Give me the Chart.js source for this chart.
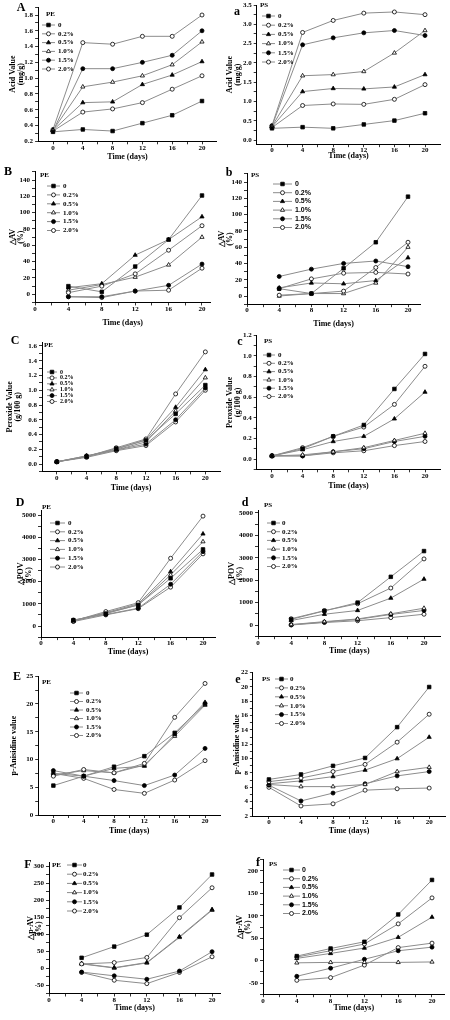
<!DOCTYPE html>
<html>
<head>
<meta charset="utf-8">
<script src="https://cdn.jsdelivr.net/npm/chart.js@4.4.1/dist/chart.umd.min.js"></script>
<style>
  body { margin: 0; background: #fff; width: 450px; height: 1020px; position: relative; overflow: hidden; }
  canvas { position: absolute; }
</style>
</head>
<body>
<script>
const levels = ['0', '0.2%', '0.5%', '1.0%', '1.5%', '2.0%'];
const days = [0, 4, 8, 12, 16, 20];
const deltaDays = [4, 8, 12, 16, 20];

// acid value (mg/g)
const avPE = [
  [0.32, 0.35, 0.33, 0.43, 0.53, 0.71],
  [0.33, 0.57, 0.61, 0.69, 0.86, 1.03],
  [0.34, 0.69, 0.70, 0.92, 1.04, 1.21],
  [0.34, 0.89, 0.95, 1.03, 1.17, 1.46],
  [0.33, 1.12, 1.12, 1.20, 1.29, 1.60],
  [0.35, 1.45, 1.43, 1.53, 1.53, 1.80]
];
const avPS = [
  [0.31, 0.34, 0.31, 0.41, 0.51, 0.70],
  [0.33, 0.90, 0.94, 0.93, 1.06, 1.44],
  [0.35, 1.26, 1.34, 1.33, 1.38, 1.70],
  [0.36, 1.67, 1.70, 1.78, 2.26, 2.84],
  [0.37, 2.47, 2.65, 2.78, 2.84, 2.71],
  [0.38, 2.79, 3.10, 3.29, 3.32, 3.25]
];
// delta AV (%)
const davPE = [
  [10, 3, 34, 67, 121],
  [2, 10, 25, 54, 84],
  [8, 13, 48, 67, 95],
  [5, 12, 21, 36, 70],
  [-3, -3, 4, 11, 37],
  [-3, -4, 4, 5, 32]
];
const davPS = [
  [9, 3, 34, 66, 122],
  [1, 3, 6, 35, 66],
  [10, 16, 15, 19, 47],
  [0, 3, 3, 16, 60],
  [24, 33, 40, 43, 36],
  [9, 21, 28, 29, 27]
];
// peroxide value (g/100 g)
const povPE = [
  [0.03, 0.10, 0.21, 0.32, 0.68, 1.07],
  [0.03, 0.10, 0.22, 0.34, 0.95, 1.52],
  [0.03, 0.11, 0.20, 0.33, 0.77, 1.28],
  [0.03, 0.10, 0.19, 0.30, 0.72, 1.17],
  [0.03, 0.11, 0.19, 0.27, 0.60, 1.03],
  [0.03, 0.09, 0.18, 0.25, 0.57, 1.00]
];
const povPS = [
  [0.03, 0.10, 0.22, 0.33, 0.68, 1.02],
  [0.03, 0.11, 0.22, 0.31, 0.53, 0.90],
  [0.03, 0.09, 0.17, 0.22, 0.39, 0.65],
  [0.03, 0.04, 0.07, 0.11, 0.18, 0.25],
  [0.03, 0.03, 0.07, 0.10, 0.17, 0.22],
  [0.03, 0.03, 0.06, 0.08, 0.13, 0.17]
];
// delta POV (%)
const dpovPE = [
  [260, 560, 950, 2150, 3450],
  [230, 650, 1050, 3050, 4950],
  [240, 600, 1000, 2450, 4150],
  [220, 580, 950, 2300, 3800],
  [270, 520, 800, 1880, 3350],
  [200, 500, 780, 1750, 3250]
];
const dpovPS = [
  [250, 630, 1000, 2150, 3300],
  [280, 640, 950, 1650, 2950],
  [200, 480, 650, 1200, 2050],
  [20, 150, 270, 500, 750],
  [10, 130, 250, 470, 650],
  [0, 110, 190, 330, 480]
];
// p-anisidine value
const panPE = [
  [5.3, 7.0, 8.7, 10.6, 14.8, 20.0],
  [7.0, 8.2, 7.6, 9.3, 17.6, 23.7],
  [7.5, 7.0, 8.4, 8.8, 14.5, 20.3],
  [7.2, 8.0, 7.6, 9.0, 14.2, 19.8],
  [8.0, 7.0, 6.2, 5.3, 7.2, 12.0],
  [7.5, 6.6, 4.6, 3.9, 6.3, 9.8]
];
const panPS = [
  [7.1, 7.8, 9.0, 10.1, 14.4, 20.0],
  [6.8, 7.3, 8.2, 9.2, 12.3, 16.2],
  [6.5, 6.9, 7.5, 8.4, 10.0, 13.0],
  [6.4, 6.1, 6.1, 6.4, 8.2, 8.8],
  [6.3, 4.1, 5.2, 6.5, 7.6, 8.2],
  [6.0, 3.4, 3.7, 5.6, 5.8, 5.9]
];
// delta p-AV (%)
const dpanPE = [
  [30, 63, 98, 178, 275],
  [12, 16, 31, 148, 236],
  [13, 1, 16, 92, 172],
  [12, 0, 15, 90, 170],
  [-12, -23, -33, -9, 48],
  [-13, -36, -46, -13, 33]
];
const dpanPS = [
  [10, 27, 42, 103, 180],
  [8, 22, 37, 82, 140],
  [5, 16, 28, 52, 97],
  [-5, -4, -4, -4, -3],
  [-35, -17, 3, 22, 30],
  [-44, -38, -10, 29, 39]
];

const markerStyle = ['rect', 'circle', 'triangle', 'triangle', 'circle', 'circle'];
const markerFill = ['#000', '#fff', '#000', '#fff', '#000', '#fff'];
const markerSize = [2.5, 2.0, 2.4, 2.4, 2.0, 2.0];
const lineGray = '#8c8c8c';
const serif = '"Liberation Serif", "Times New Roman", serif';
const sans = '"Liberation Sans", Arial, sans-serif';

// layout of each panel: box = canvas rect, xr/yr = two value->pixel pairs
const panels = [
  {data: avPE, t: days, box: [0, 0, 225, 168], xr: [0, 53, 20, 202], xlim: [-2, 22], yr: [0.2, 141.3, 1.8, 15], ylim: [0.2, 1.9], ystep: 0.1, ymajor: 0.2, dec: 1,
   ytitle: ['Acid Value', '(mg/g)'], ytx: 13, xty: 157, letter: 'A', letterAt: [21, 8], tag: 'PE', tagAt: [46, 14], leg: [42, 25, 8.8, 13, 58]},
  {data: avPS, t: days, box: [214, 0, 236, 168], xr: [0, 272, 20, 425], xlim: [-2, 22], yr: [0, 140.3, 3.5, 5], ylim: [-0.1, 3.5], ystep: 0.25, ymajor: 0.5, dec: 1,
   ytitle: ['Acid Value', '(mg/g)'], ytx: 230, xty: 156, letter: 'a', letterAt: [237, 12], tag: 'PS', tagAt: [260, 5], leg: [262, 16, 9.2, 13, 278]},
  {data: davPE, t: deltaDays, box: [0, 160, 225, 176], xr: [0, 35, 20, 202], xlim: [0, 21], yr: [0, 294.3, 140, 180], ylim: [-10, 150], ystep: 10, ymajor: 20, dec: 0,
   ytitle: ['\u25B3AV', '(%)'], ytx: 13, xty: 323, letter: 'B', letterAt: [8, 172], tag: 'PE', tagAt: [40, 175], leg: [47, 186, 8.9, 13, 63]},
  {data: davPS, t: deltaDays, box: [214, 160, 236, 176], xr: [0, 247, 20, 408], xlim: [0, 21.5], yr: [0, 296, 140, 182], ylim: [-10, 150], ystep: 10, ymajor: 20, dec: 0,
   ytitle: ['\u25B3AV', '(%)'], ytx: 222, xty: 324, letter: 'b', letterAt: [229, 173], tag: 'PS', tagAt: [251, 175], leg: [273, 184, 8.7, 19, 295], legFont: sans},
  {data: povPE, t: days, box: [0, 330, 225, 170], xr: [0, 57, 20, 207], xlim: [-2, 22], yr: [0, 464, 1.6, 346], ylim: [-0.1, 1.65], ystep: 0.1, ymajor: 0.2, dec: 1,
   ytitle: ['Peroxide Value', '(g/100 g)'], ytx: 10, xty: 488, letter: 'C', letterAt: [15, 341], tag: 'PE', tagAt: [44, 345], leg: [47, 372, 5.9, 10, 60], legSize: 6},
  {data: povPS, t: days, box: [214, 330, 236, 170], xr: [0, 272, 20, 425], xlim: [-2, 22], yr: [0, 459, 1.0, 356], ylim: [-0.1, 1.2], ystep: 0.1, ymajor: 0.2, dec: 1,
   ytitle: ['Peroxide Value', '(g/100 g)'], ytx: 230, xty: 486, letter: 'c', letterAt: [240, 342], tag: 'PS', tagAt: [264, 341], leg: [263, 355, 8.3, 12, 278]},
  {data: dpovPE, t: deltaDays, box: [0, 492, 225, 178], xr: [0, 41, 20, 203], xlim: [0, 21.5], yr: [0, 626, 5000, 515], ylim: [-500, 5200], ystep: 500, ymajor: 1000, dec: 0,
   ytitle: ['\u25B3POV', '(%)'], ytx: 21, xty: 652, letter: 'D', letterAt: [20, 503], tag: 'PE', tagAt: [42, 507], leg: [50, 523, 8.8, 15, 68]},
  {data: dpovPS, t: deltaDays, box: [214, 492, 236, 178], xr: [0, 258, 20, 424], xlim: [0, 22], yr: [0, 625, 5000, 513], ylim: [-500, 5100], ystep: 500, ymajor: 1000, dec: 0,
   ytitle: ['\u25B3POV', '(%)'], ytx: 232, xty: 651, letter: 'd', letterAt: [245, 503], tag: 'PS', tagAt: [264, 505], leg: [267, 523, 8.7, 13, 282]},
  {data: panPE, t: days, box: [0, 664, 225, 188], xr: [0, 54, 20, 212], xlim: [-2, 22], yr: [0, 815, 20, 704], ylim: [0, 25], ystep: 2.5, ymajor: 5, dec: 0,
   ytitle: 'p-Anisidine value', ytx: 14, xty: 831, letter: 'E', letterAt: [17, 677], tag: 'PE', tagAt: [42, 682], leg: [70, 693, 8.5, 13, 86]},
  {data: panPS, t: days, box: [214, 664, 236, 188], xr: [0, 269, 20, 430], xlim: [-2, 22], yr: [2, 816, 20, 687], ylim: [2, 22], ystep: 1, ymajor: 2, dec: 0,
   ytitle: 'p-Anisidine value', ytx: 237, xty: 831, letter: 'e', letterAt: [238, 680], tag: 'PS', tagAt: [262, 679], leg: [275, 679, 8.9, 13, 290]},
  {data: dpanPE, t: deltaDays, box: [0, 850, 225, 170], xr: [0, 49, 20, 217], xlim: [0, 21], yr: [-50, 985, 300, 866], ylim: [-75, 310], ystep: 25, ymajor: 50, dec: 0,
   ytitle: ['\u25B3p-AV', '(%)'], ytx: 31, xty: 1008, letter: 'F', letterAt: [28, 865], tag: 'PE', tagAt: [52, 865], leg: [67, 865, 9.2, 15, 83]},
  {data: dpanPS, t: deltaDays, box: [214, 850, 236, 170], xr: [0, 263, 20, 432], xlim: [0, 21.5], yr: [-50, 983, 200, 871], ylim: [-75, 225], ystep: 25, ymajor: 50, dec: 0,
   ytitle: ['\u25B3p-AV', '(%)'], ytx: 240, xty: 1008, letter: 'f', letterAt: [258, 863], tag: 'PS', tagAt: [269, 864], leg: [283, 870, 8.7, 17, 302], legFont: sans}
];

function plotArea(p) {
  const xk = (p.xr[3] - p.xr[1]) / (p.xr[2] - p.xr[0]);
  const yk = (p.yr[3] - p.yr[1]) / (p.yr[2] - p.yr[0]);
  return {
    left: p.xr[1] + (p.xlim[0] - p.xr[0]) * xk,
    right: p.xr[1] + (p.xlim[1] - p.xr[0]) * xk,
    top: p.yr[1] + (p.ylim[1] - p.yr[0]) * yk,
    bottom: p.yr[1] + (p.ylim[0] - p.yr[0]) * yk
  };
}

function tickList(lo, hi, step) {
  let out = [];
  for (let k = Math.ceil(lo / step - 1e-9); k * step <= hi + 1e-9; k++) {
    out.push({value: Math.round(k * step * 1000) / 1000});
  }
  return out;
}

function isMajor(v, major) {
  let r = v / major;
  return Math.abs(r - Math.round(r)) < 1e-6;
}

function drawMarker(ctx, i, x, y) {
  ctx.fillStyle = markerFill[i];
  ctx.strokeStyle = '#000';
  ctx.lineWidth = 0.8;
  if (Chart.helpers && Chart.helpers.drawPoint) {
    Chart.helpers.drawPoint(ctx, {pointStyle: markerStyle[i], radius: markerSize[i], borderWidth: 0.8, rotation: 0}, x, y);
  } else {
    ctx.beginPath();
    ctx.arc(x, y, markerSize[i], 0, Math.PI * 2);
    ctx.fill();
    ctx.stroke();
  }
}

function decoPlugin(p) {
  return {
    id: 'deco',
    afterDraw(chart) {
      const ctx = chart.ctx;
      const bx = p.box[0], by = p.box[1];
      ctx.save();
      ctx.textBaseline = 'middle';
      ctx.fillStyle = '#000';
      ctx.textAlign = 'center';
      ctx.font = 'bold 12px ' + serif;
      ctx.fillText(p.letter, p.letterAt[0] - bx, p.letterAt[1] - by);
      ctx.textAlign = 'left';
      ctx.font = 'bold 7px ' + serif;
      ctx.fillText(p.tag, p.tagAt[0] - bx, p.tagAt[1] - by);

      const [lx, ly, dy, len, tx] = p.leg;
      const fs = p.legSize || 7;
      p.data.forEach((_, i) => {
        let y = ly + i * dy - by;
        ctx.strokeStyle = lineGray;
        ctx.lineWidth = 1;
        ctx.beginPath();
        ctx.moveTo(lx - bx, y);
        ctx.lineTo(lx + len - bx, y);
        ctx.stroke();
        drawMarker(ctx, i, lx + len / 2 - bx, y);
        ctx.fillStyle = '#000';
        ctx.font = 'bold ' + fs + 'px ' + (p.legFont || serif);
        ctx.fillText(levels[i], tx - bx, y);
      });
      ctx.restore();
    }
  };
}

function makePanel(p) {
  const [bx, by, bw, bh] = p.box;
  const a = plotArea(p);
  const yW = a.left - bx;
  const xH = by + bh - a.bottom;
  const titleFont = {family: serif, size: 8, weight: 'bold', lineHeight: 1};
  const tickFont = {family: serif, size: 7, weight: 'bold', lineHeight: 1};

  let canvas = document.createElement('canvas');
  canvas.width = bw;
  canvas.height = bh;
  canvas.style.left = bx + 'px';
  canvas.style.top = by + 'px';
  document.body.appendChild(canvas);

  new Chart(canvas.getContext('2d'), {
    type: 'line',
    data: {
      datasets: p.data.map((vals, i) => ({
        label: levels[i],
        data: vals.map((v, j) => ({x: p.t[j], y: v})),
        borderColor: lineGray,
        borderWidth: 1,
        pointStyle: markerStyle[i],
        pointRadius: markerSize[i],
        pointBackgroundColor: markerFill[i],
        pointBorderColor: '#000',
        pointBorderWidth: 0.8,
        tension: 0,
        clip: false
      }))
    },
    options: {
      responsive: false,
      animation: false,
      devicePixelRatio: 1,
      layout: {padding: {left: 0, top: a.top - by, right: bx + bw - a.right, bottom: 0}},
      plugins: {legend: {display: false}, tooltip: {enabled: false}},
      scales: {
        x: {
          type: 'linear',
          min: p.xlim[0],
          max: p.xlim[1],
          afterBuildTicks: s => { s.ticks = tickList(0, 20, 2); },
          afterFit: s => { s.height = xH; s.paddingLeft = 0; s.paddingRight = 0; },
          ticks: {
            autoSkip: false, maxRotation: 0, minRotation: 0, padding: 0, color: '#000', font: tickFont,
            callback: v => (isMajor(v, 4) ? String(v) : '')
          },
          grid: {drawOnChartArea: false, drawTicks: true, tickLength: 3, tickColor: '#000', tickWidth: 0.8},
          border: {display: true, color: '#000', width: 1},
          title: {display: true, text: 'Time (days)', color: '#000', font: titleFont,
                  padding: {top: 0, bottom: (by + bh - p.xty) - 4}}
        },
        y: {
          type: 'linear',
          min: p.ylim[0],
          max: p.ylim[1],
          afterBuildTicks: s => { s.ticks = tickList(p.ylim[0], p.ylim[1], p.ystep); },
          afterFit: s => { s.width = yW; s.paddingTop = 0; s.paddingBottom = 0; },
          ticks: {
            autoSkip: false, padding: 2, color: '#000', font: tickFont,
            callback: v => (isMajor(v, p.ymajor) ? Number(v).toFixed(p.dec) : '')
          },
          grid: {drawOnChartArea: false, drawTicks: true, tickLength: 3, tickColor: '#000', tickWidth: 0.8},
          border: {display: true, color: '#000', width: 1},
          title: {display: true, text: p.ytitle, color: '#000', font: titleFont,
                  padding: {top: p.ytx - bx - 4, bottom: 0}}
        }
      }
    },
    plugins: [decoPlugin(p)]
  });
}

panels.forEach(makePanel);
</script>
</body>
</html>
